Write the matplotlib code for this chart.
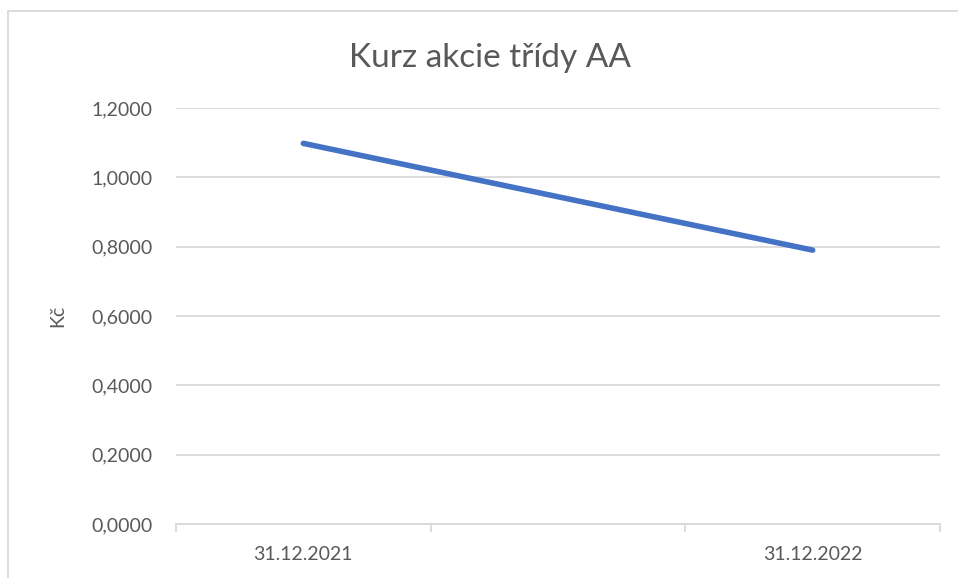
import matplotlib
matplotlib.use("Agg")
import matplotlib.pyplot as plt
from matplotlib.patches import Rectangle
from matplotlib.ticker import FuncFormatter, FixedLocator

categories = ["31.12.2021", "", "31.12.2022"]
values = [1.098, None, 0.790]
title = "Kurz akcie třídy AA"
ylabel = "Kč"
yticks = [0.0, 0.2, 0.4, 0.6, 0.8, 1.0, 1.2]

plt.rcParams['font.family'] = ['Lato', 'DejaVu Sans']
txt = "#595959"
grid = "#d9d9d9"

W, H = 958, 578
fig = plt.figure(figsize=(W/100, H/100), dpi=100)
fig.patch.set_facecolor("white")

# chart border (cropped at right/bottom)
fig.add_artist(Rectangle((8/W, -0.05), (W+20)/W, (H-10.5)/H + 0.05, transform=fig.transFigure,
                         fill=False, edgecolor=grid, linewidth=1.3))

x0, x1 = 176, 940
y0, y1 = 524, 108
ax = fig.add_axes([x0/W, 1 - y0/H, (x1-x0)/W, (y0-y1)/H])

xs = [i for i, v in enumerate(values) if v is not None]
ys = [v for v in values if v is not None]
ax.plot(xs, ys, color="#4472C4", linewidth=4.0, solid_capstyle="round", zorder=3)

ax.set_xlim(-0.5, len(categories) - 0.5)
ax.set_ylim(0, 1.2)
ax.set_yticks(yticks)
ax.yaxis.set_major_formatter(FuncFormatter(lambda v, p: f"{v:.4f}".replace(".", ",")))
ax.grid(axis="y", color=grid, linewidth=1.3)
ax.set_axisbelow(True)

ax.set_xticks([i for i, c in enumerate(categories) if c])
ax.set_xticklabels([c for c in categories if c])
ax.xaxis.set_minor_locator(FixedLocator([i - 0.5 for i in range(len(categories) + 1)]))
ax.tick_params(axis="x", which="major", length=0, pad=16, labelsize=14, colors=txt)
ax.tick_params(axis="x", which="minor", length=6, color=grid, width=1.3)
ax.tick_params(axis="y", length=0, pad=17, labelsize=14, colors=txt)

for s in ["top", "right", "left"]:
    ax.spines[s].set_visible(False)
ax.spines["bottom"].set_color(grid)
ax.spines["bottom"].set_linewidth(1.3)

ax.yaxis.set_label_coords((58 - x0) / (x1 - x0), 0.5)
ax.set_ylabel(ylabel, fontsize=14, color=txt, va="center")
fig.text(490/W, 1 - 58/H, title, ha="center", va="center", fontsize=24, color=txt)

fig.savefig("out.png", dpi=100, facecolor="white")
